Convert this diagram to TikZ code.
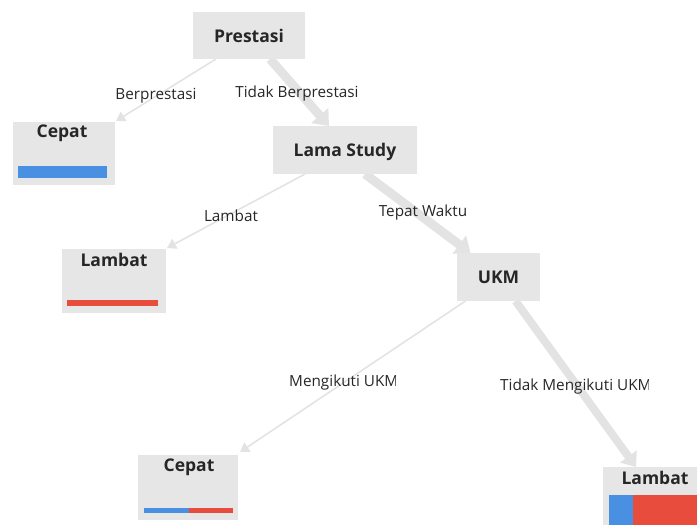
\documentclass[tikz,border=0pt]{standalone}
\usepackage{fontspec}
\setmainfont{Open Sans}
\usetikzlibrary{arrows.meta}
\definecolor{boxgray}{HTML}{E6E6E6}
\definecolor{edgegray}{HTML}{E3E3E3}
\definecolor{barblue}{HTML}{4A90E2}
\definecolor{barred}{HTML}{E74C3C}
\tikzset{
  treebox/.style={fill=boxgray, draw=none, inner sep=0pt, outer sep=0pt},
  boxtext/.style={inner sep=0pt, font=\bfseries\fontsize{17.5}{20}\selectfont, text=black!85},
  edgetext/.style={inner sep=0pt, font=\fontsize{15.3}{17}\selectfont, text=black!85},
  thinedge/.style={draw=edgegray, line width=1.6pt, -{Triangle[length=9pt, width=11pt]}},
  thickedge/.style={draw=edgegray, line width=9pt, -{Triangle[length=14pt, width=22pt]}},
  bar/.style={draw=none, inner sep=0pt, outer sep=0pt}
}
\begin{document}
\begin{tikzpicture}[x=1pt, y=-1pt]
\useasboundingbox (0,0) rectangle (697,525);

% decision and leaf boxes
\node[treebox, minimum width=112pt, minimum height=47pt] (prestasi) at (249,35.5) {};
\node[treebox, minimum width=102pt, minimum height=63pt] (cepatA) at (64,153.5) {};
\node[treebox, minimum width=144pt, minimum height=48pt] (lama) at (345,150) {};
\node[treebox, minimum width=104pt, minimum height=64pt] (lambatA) at (114,281) {};
\node[treebox, minimum width=83pt, minimum height=48pt] (ukm) at (498.5,277) {};
\node[treebox, minimum width=100pt, minimum height=65pt] (cepatB) at (188,487.5) {};
\node[treebox, minimum width=94pt, minimum height=58pt] (lambatB) at (650,496) {};

% connectors
\draw[thinedge] ([xshift=-33pt]prestasi.south) -- ([xshift=1pt,yshift=1pt]cepatA.north east);
\draw[thickedge] ([xshift=21pt]prestasi.south) -- ([xshift=-16pt]lama.north);
\draw[thinedge] ([xshift=-40pt]lama.south) -- ([xshift=1pt,yshift=1pt]lambatA.north east);
\draw[thickedge] ([xshift=20pt]lama.south) -- ([xshift=-28pt]ukm.north);
\draw[thinedge] ([xshift=-33pt]ukm.south) -- ([xshift=2pt,yshift=3pt]cepatB.north east);
\draw[draw=edgegray, line width=8pt, -{Triangle[length=13pt, width=20pt]}] ([xshift=17pt]ukm.south) -- ([xshift=-14pt]lambatB.north);

% redraw boxes over connector ends
\fill[boxgray] (prestasi.south west) rectangle (prestasi.north east);
\fill[boxgray] (lama.south west) rectangle (lama.north east);
\fill[boxgray] (ukm.south west) rectangle (ukm.north east);

% box titles
\node[boxtext] (tPrestasi) at (prestasi) {Prestasi};
\node[boxtext] (tLama) at ([yshift=-1.5pt]lama) {Lama Study};
\node[boxtext] (tUkm) at (ukm) {UKM};
\node[boxtext] (tCepatA) at (62,133) {Cepat};
\node[boxtext] (tLambatA) at (114,260) {Lambat};
\node[boxtext] (tCepatB) at (189,467) {Cepat};
\node[boxtext] (tLambatB) at (655,478) {Lambat};

% class bars
\fill[barblue] (18,166) rectangle (107,178);
\fill[barred] (67,300) rectangle (158,306);
\fill[barblue] (144,508) rectangle (189,513);
\fill[barred] (189,508) rectangle (233,513);
\fill[barblue] (609,495) rectangle (633,525);
\fill[barred] (633,495) rectangle (697,525);

% connector labels
\node[edgetext] (lBer) at (156,96) {Berprestasi};
\node[edgetext] (lTidakBer) at (297,94) {Tidak Berprestasi};
\node[edgetext] (lLambat) at (231,216) {Lambat};
\node[edgetext] (lTepat) at (423,213) {Tepat Waktu};
\begin{scope}
  \clip (280,370) rectangle (395,400);
  \node[edgetext, anchor=west] (lIkut) at (289,383) {Mengikuti UKM};
\end{scope}
\begin{scope}
  \clip (490,375) rectangle (648,400);
  \node[edgetext, anchor=west] (lTidakIkut) at (500,387) {Tidak Mengikuti UKM};
\end{scope}
\end{tikzpicture}
\end{document}
